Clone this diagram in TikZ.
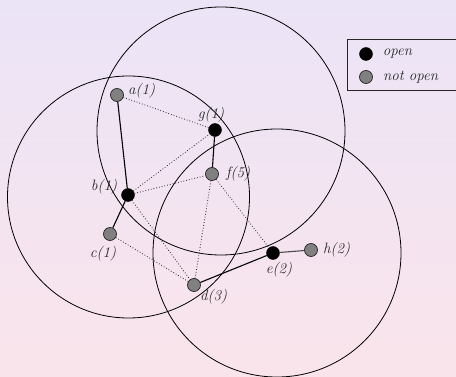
\documentclass[tikz,border=0pt]{standalone}
\usepackage{tikz}
\usetikzlibrary{positioning}
\definecolor{bgtop}{RGB}{235,228,247}
\definecolor{bgbottom}{RGB}{250,228,235}

\begin{document}
\begin{tikzpicture}[
    x=1pt, y=-1pt,
    openpt/.style={circle, draw=black, fill=black, minimum size=13pt, inner sep=0pt},
    notopenpt/.style={circle, draw=black!85, line width=0.7pt, fill=black!50, minimum size=13pt, inner sep=0pt},
    lbl/.style={font=\fontsize{15}{17}\selectfont\itshape, text=black!85, inner sep=1pt},
    linkline/.style={line width=1.1pt},
    nearline/.style={dotted, line width=0.8pt, black!85},
    rangering/.style={line width=0.8pt}
]

% Fondo
\clip (0,0) rectangle (456,377);
\shade[top color=bgtop, bottom color=bgbottom] (0,0) rectangle (456,377);

% === RANGOS ===
\draw[rangering] (221,131) circle [radius=124pt];
\draw[rangering] (128.5,197) circle [radius=121pt];
\draw[rangering] (277,253) circle [radius=124pt];

% === NODOS ===
\node (a) [notopenpt] at (117,95) {};
\node (g) [openpt] at (215,130) {};
\node (f) [notopenpt] at (212,174) {};
\node (b) [openpt] at (128,195) {};
\node (c) [notopenpt] at (110,234) {};
\node (d) [notopenpt] at (194,285) {};
\node (e) [openpt] at (273,253) {};
\node (h) [notopenpt] at (311,250) {};

% Etiquetas
\node (la) [lbl, right=3pt of a, yshift=4pt] {a(1)};
\node (lg) [lbl, above=0pt of g, xshift=-4pt] {g(1)};
\node (lf) [lbl, right=6pt of f] {f(5)};
\node (lb) [lbl, left=3pt of b, yshift=8pt] {b(1)};
\node (lc) [lbl, below=4pt of c, xshift=-7pt] {c(1)};
\node (ld) [lbl, below right=-2pt and 0pt of d] {d(3)};
\node (le) [lbl, below=1pt of e, xshift=6pt] {e(2)};
\node (lh) [lbl, right=4pt of h] {h(2)};

% === ENLACES ===
\draw[linkline] (a) -- (b);
\draw[linkline] (g) -- (f);
\draw[linkline] (b) -- (c);
\draw[linkline] (d) -- (e);
\draw[linkline, black!70] (e) -- (h);

\draw[nearline] (a) -- (g);
\draw[nearline] (b) -- (g);
\draw[nearline] (b) -- (f);
\draw[nearline] (b) -- (d);
\draw[nearline] (c) -- (d);
\draw[nearline] (f) -- (d);
\draw[nearline] (f) -- (e);

% === LEYENDA ===
\node (legend) [draw=black!85, line width=0.8pt, minimum width=130pt, minimum height=51pt, anchor=north west] at (347,39) {};
\node (kopen) [openpt] at (366,54) {};
\node (knot) [notopenpt] at (366,77) {};
\node (topen) [lbl, right=9pt of kopen] {open};
\node (tnot) [lbl, right=9pt of knot] {not open};

\end{tikzpicture}
\end{document}
